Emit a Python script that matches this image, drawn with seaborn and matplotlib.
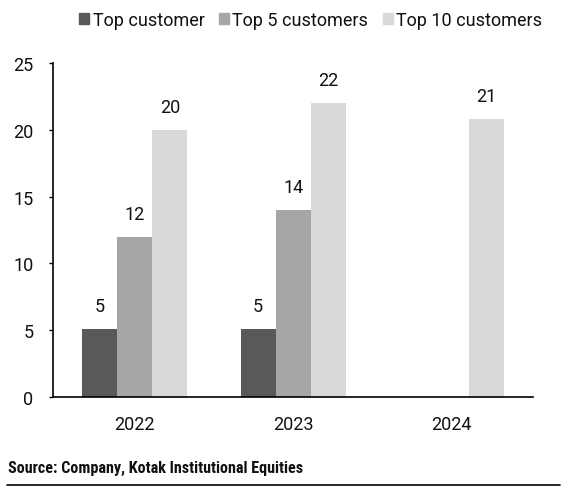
import pandas as pd
import matplotlib
matplotlib.use("Agg")
import matplotlib.pyplot as plt
import seaborn as sns
import numpy as np

years = ["2022", "2023", "2024"]
top_customer = [5.1, 5.1, np.nan]
top_5 = [12.0, 14.0, np.nan]
top_10 = [20.0, 22.0, 20.8]
series_names = ["Top customer", "Top 5 customers", "Top 10 customers"]
colors = ["#595959", "#a6a6a6", "#d9d9d9"]

df = pd.DataFrame({
    "Year": years * 3,
    "Series": np.repeat(series_names, len(years)),
    "Value": top_customer + top_5 + top_10,
})

sns.set_theme(style="white")
plt.rcParams["font.family"] = ["Roboto", "DejaVu Sans"]

fig = plt.figure(figsize=(5.67, 5.02), dpi=100)
ax = fig.add_axes([0.0935, 0.2072, 0.846, 0.6653])

sns.barplot(data=df, x="Year", y="Value", hue="Series", hue_order=series_names,
            palette=colors, width=0.663, gap=0, saturation=1, ax=ax,
            edgecolor="none", linewidth=0, legend=False)

text_color = "#111111"
fs = 13
for container in ax.containers:
    labels = ["" if np.isnan(v) else f"{v:.0f}" for v in container.datavalues]
    ax.bar_label(container, labels=labels, padding=10, fontsize=fs, color=text_color)

ax.set_ylim(0, 25)
ax.set_yticks([0, 5, 10, 15, 20, 25])
ax.set_xlim(-0.516, 2.512)
ax.set_xlabel("")
ax.set_ylabel("")

for side in ["top", "right"]:
    ax.spines[side].set_visible(False)
ax.spines["left"].set_color("#000000")
ax.spines["bottom"].set_color("#000000")
ax.spines["left"].set_linewidth(1.2)
ax.spines["bottom"].set_linewidth(1.2)
ax.tick_params(axis="y", length=3, width=1, color="#000000", left=True, pad=11,
               labelsize=fs, labelcolor=text_color)
ax.tick_params(axis="x", length=0, pad=13, labelsize=fs, labelcolor=text_color)

handles = [plt.Rectangle((0, 0), 1, 1, color=c) for c in colors]
fig.legend(handles, series_names, loc="center", bbox_to_anchor=(0.548, 0.958), ncol=3,
           frameon=False, fontsize=fs, handlelength=0.55, handleheight=0.55,
           handletextpad=0.2, columnspacing=0.8, labelcolor=text_color)

fig.text(0.014, 0.066, "Source: Company, Kotak Institutional Equities",
         fontsize=11.6, fontweight="bold", color=text_color,
         family=["Roboto Condensed", "Liberation Sans Narrow", "DejaVu Sans"],
         va="center")
fig.add_artist(plt.Line2D([0.012, 0.988], [0.032, 0.032], color="#000000", linewidth=1.2))

fig.savefig("out.png", dpi=100)
